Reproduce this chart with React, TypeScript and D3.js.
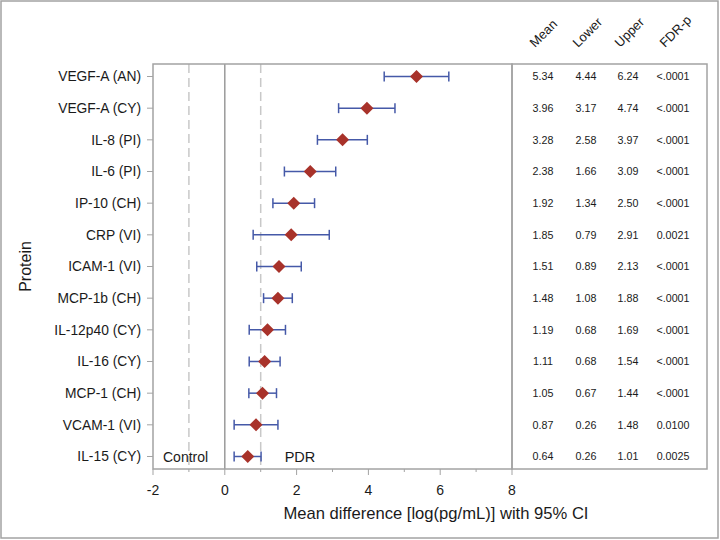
import React from "react";
import * as d3 from "d3";

const proteins = ["VEGF-A (AN)", "VEGF-A (CY)", "IL-8 (PI)", "IL-6 (PI)", "IP-10 (CH)", "CRP (VI)", "ICAM-1 (VI)", "MCP-1b (CH)", "IL-12p40 (CY)", "IL-16 (CY)", "MCP-1 (CH)", "VCAM-1 (VI)", "IL-15 (CY)"];
const means = [5.34, 3.96, 3.28, 2.38, 1.92, 1.85, 1.51, 1.48, 1.19, 1.11, 1.05, 0.87, 0.64];
const lowers = [4.44, 3.17, 2.58, 1.66, 1.34, 0.79, 0.89, 1.08, 0.68, 0.68, 0.67, 0.26, 0.26];
const uppers = [6.24, 4.74, 3.97, 3.09, 2.50, 2.91, 2.13, 1.88, 1.69, 1.54, 1.44, 1.48, 1.01];
const fdrp = ["<.0001", "<.0001", "<.0001", "<.0001", "<.0001", "0.0021", "<.0001", "<.0001", "<.0001", "<.0001", "<.0001", "0.0100", "0.0025"];
const headers = ["Mean", "Lower", "Upper", "FDR-p"];
const xTicks = [-2, 0, 2, 4, 6, 8];
const xMinorTicks = [-1, 1, 3, 5, 7];
const refDashed = [-1, 1];

const FONT = "'Liberation Sans', Arial, sans-serif";
const FRAME = "#a3a3a3";
const BLUE = "#4559a8";
const RED = "#a8322a";
const TXT = "#1a1a1a";

export default function App() {
  const W = 720, H = 540;
  const left = 153, right = 512, top = 64, bottom = 469;
  const tableRight = 707;
  const x = d3.scaleLinear().domain([-2, 8]).range([left, right]);
  const y = d3.scalePoint<string>().domain(proteins).range([top, bottom]).padding(0.395);
  const colX = [543, 586, 628, 673];
  const hw = 6.5;
  const diamond = `M0,${-hw}L${hw},0L0,${hw}L${-hw},0Z`;
  const cap = 5;
  const lastY = y(proteins[proteins.length - 1])!;

  return (
    <svg width={W} height={H} style={{ position: "absolute", left: 0, top: 0 }} fontFamily={FONT}>
      <rect x={0} y={0} width={W} height={H} fill="white" />
      <rect x={1} y={1} width={W - 3} height={H - 3} fill="none" stroke={FRAME} strokeWidth={1.5} />
      {refDashed.map((v) => (
        <line key={v} x1={x(v)} x2={x(v)} y1={top} y2={bottom} stroke="#c8c8c8" strokeWidth={1.5} strokeDasharray="9,5" />
      ))}
      <line x1={x(0)} x2={x(0)} y1={top} y2={bottom} stroke="#9a9a9a" strokeWidth={1.5} />
      <rect x={left} y={top} width={right - left} height={bottom - top} fill="none" stroke={FRAME} strokeWidth={1.5} />
      <rect x={right} y={top} width={tableRight - right} height={bottom - top} fill="none" stroke={FRAME} strokeWidth={1.5} />
      {proteins.map((p) => (
        <g key={p}>
          <line x1={left - 6} x2={left} y1={y(p)!} y2={y(p)!} stroke={FRAME} strokeWidth={1} />
          <text x={left - 12} y={y(p)!} dy="0.36em" textAnchor="end" fontSize={13.8} fill={TXT}>{p}</text>
        </g>
      ))}
      {xTicks.map((t) => (
        <g key={t}>
          <line x1={x(t)} x2={x(t)} y1={bottom} y2={bottom + 6} stroke={FRAME} strokeWidth={1} />
          <text x={x(t)} y={bottom + 26} textAnchor="middle" fontSize={14} fill={TXT}>{t}</text>
        </g>
      ))}
      {xMinorTicks.map((t) => (
        <line key={t} x1={x(t)} x2={x(t)} y1={bottom} y2={bottom + 3} stroke={FRAME} strokeWidth={1} />
      ))}
      {proteins.map((p, i) => {
        const cy = y(p)!;
        return (
          <g key={p}>
            <line x1={x(lowers[i])} x2={x(uppers[i])} y1={cy} y2={cy} stroke={BLUE} strokeWidth={1.5} />
            <line x1={x(lowers[i])} x2={x(lowers[i])} y1={cy - cap} y2={cy + cap} stroke={BLUE} strokeWidth={1.5} />
            <line x1={x(uppers[i])} x2={x(uppers[i])} y1={cy - cap} y2={cy + cap} stroke={BLUE} strokeWidth={1.5} />
            <path d={diamond} transform={`translate(${x(means[i])},${cy})`} fill={RED} />
          </g>
        );
      })}
      <text x={left + 10} y={lastY} dy="0.36em" textAnchor="start" fontSize={14} fill={TXT}>Control</text>
      <text x={x(1) + 24} y={lastY} dy="0.36em" textAnchor="start" fontSize={14.5} fill={TXT}>PDR</text>
      {proteins.map((p, i) => {
        const cy = y(p)!;
        const vals = [means[i].toFixed(2), lowers[i].toFixed(2), uppers[i].toFixed(2), fdrp[i]];
        return (
          <g key={p}>
            {vals.map((v, j) => (
              <text key={j} x={colX[j]} y={cy} dy="0.36em" textAnchor="middle" fontSize={10.7} fill={TXT}>{v}</text>
            ))}
          </g>
        );
      })}
      {headers.map((h, j) => (
        <text key={h} transform={`translate(${colX[j] - 8},${48}) rotate(-45)`} textAnchor="start" fontSize={13} fill={TXT}>{h}</text>
      ))}
      <text x={436} y={519} textAnchor="middle" fontSize={16.6} fill={TXT}>Mean difference [log(pg/mL)] with 95% CI</text>
      <text transform={`translate(31,${(top + bottom) / 2}) rotate(-90)`} textAnchor="middle" fontSize={16} fill={TXT}>Protein</text>
    </svg>
  );
}
